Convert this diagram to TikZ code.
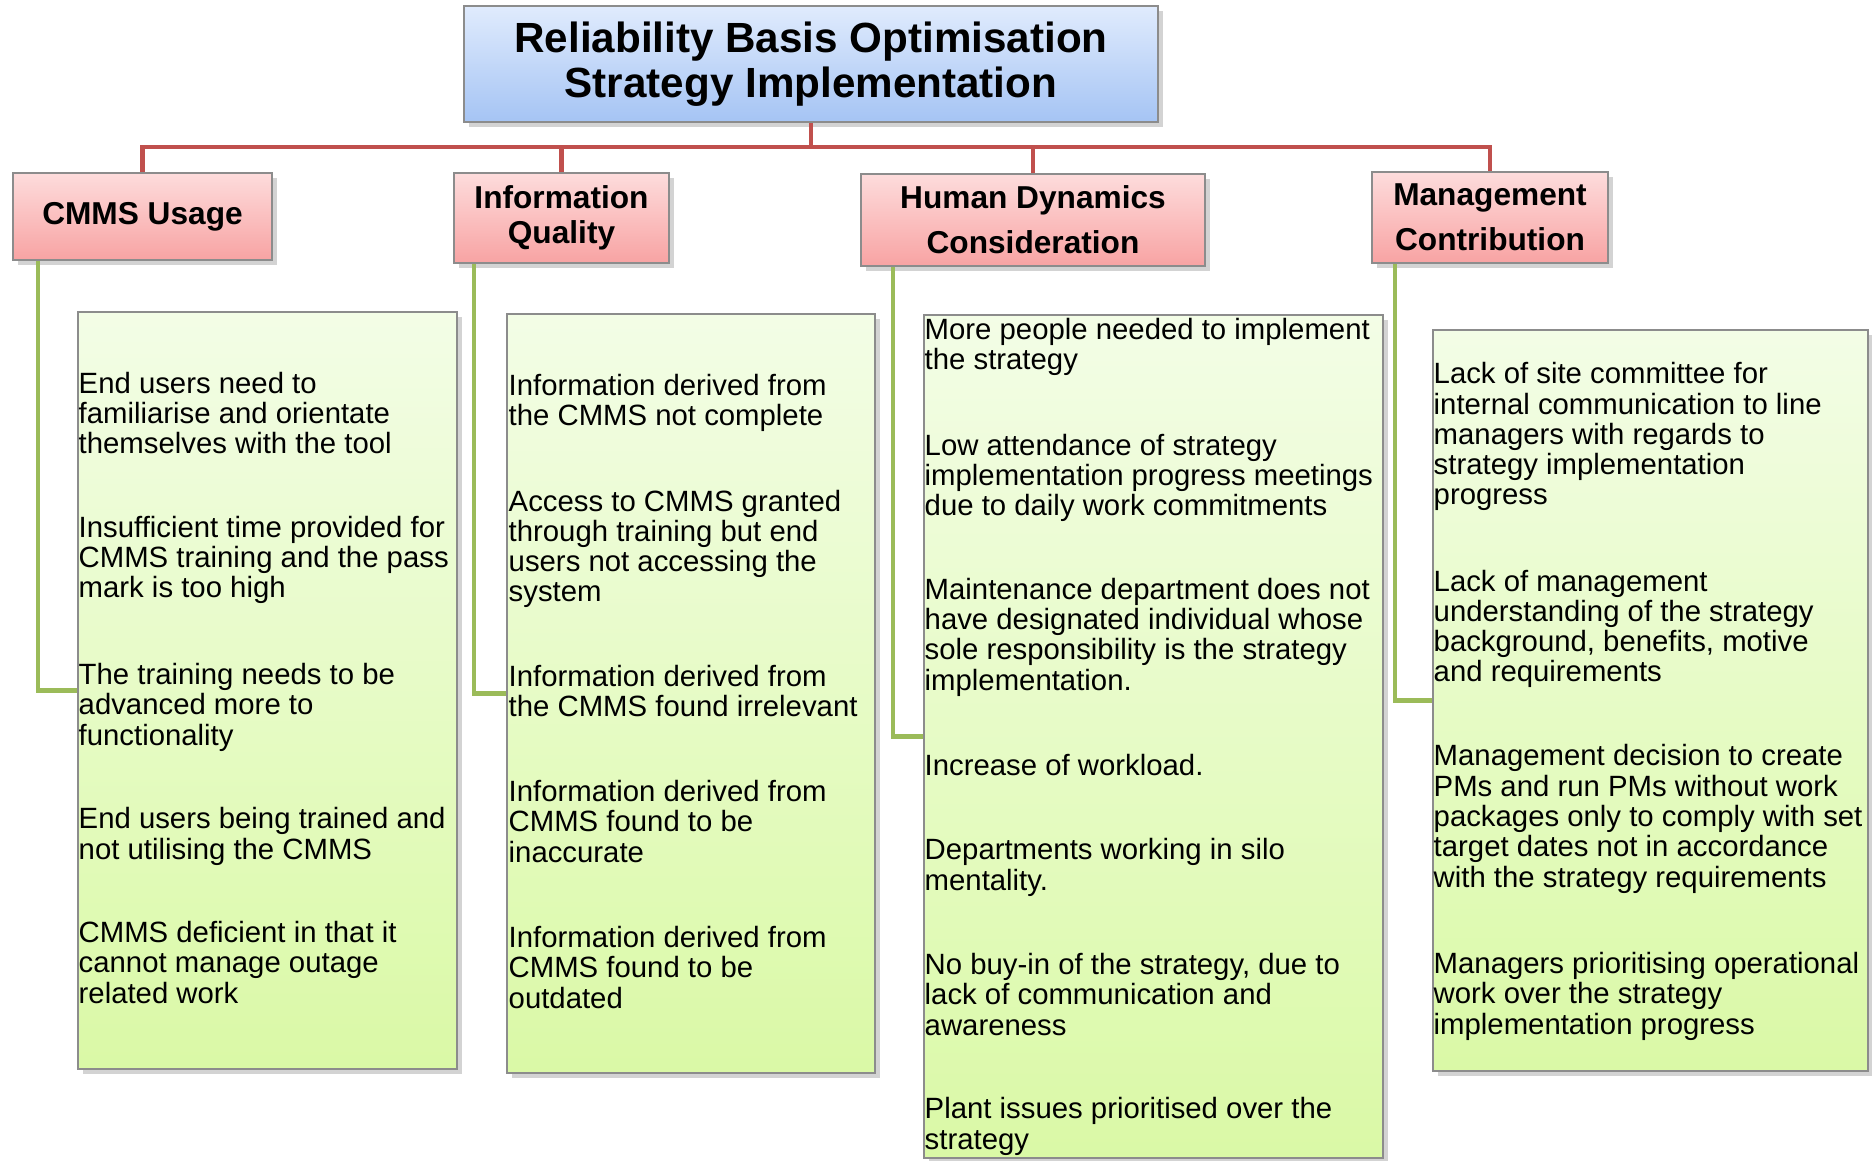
\documentclass[tikz,border=0pt]{standalone}
\usepackage{fontspec}
\setmainfont{Liberation Sans}
\usetikzlibrary{shadows}

\definecolor{titletop}{HTML}{E0EBFD}
\definecolor{titlebot}{HTML}{A5C4F4}
\definecolor{pinktop}{HTML}{FDDCDC}
\definecolor{pinkbot}{HTML}{F8A3A3}
\definecolor{greentop}{HTML}{F3FDE6}
\definecolor{greenbot}{HTML}{DAF9A6}
\definecolor{linered}{HTML}{C0504D}
\definecolor{linegreen}{HTML}{9BBB59}
\definecolor{boxgray}{HTML}{8C8C8C}

\begin{document}
\begin{tikzpicture}[x=0.01cm, y=-0.01cm,
  box/.style={draw=boxgray, line width=0.5pt, drop shadow={shadow xshift=1.5pt, shadow yshift=-1.5pt, opacity=0.35}},
  headbox/.style={box, top color=titletop, bottom color=titlebot, align=center, font=\bfseries\fontsize{12}{12.9}\selectfont},
  catbox/.style={box, top color=pinktop, bottom color=pinkbot, align=center, font=\bfseries\fontsize{9}{9.85}\selectfont},
  listbox/.style={box, top color=greentop, bottom color=greenbot},
  item/.style={anchor=base west, inner sep=0pt, align=left, font=\fontsize{8.34}{8.62}\selectfont},
  redline/.style={draw=linered, line width=1.2pt},
  greenline/.style={draw=linegreen, line width=1.2pt}]
  \useasboundingbox (0,0) rectangle (1872,1161);

  \node[headbox, minimum width=6.94cm, minimum height=1.16cm] (title) at (811,64)
    {Reliability Basis Optimisation\\Strategy Implementation};

  \node[catbox, minimum width=2.59cm, minimum height=0.87cm] (cmms) at (142.5,216.5) {CMMS Usage};
  \node[catbox, minimum width=2.15cm, minimum height=0.90cm] (info) at (561.5,218) {Information\\Quality};
  \node[catbox, minimum width=3.44cm, minimum height=0.92cm] (human) at (1033,220) {Human Dynamics\\[3pt]Consideration};
  \node[catbox, minimum width=2.36cm, minimum height=0.91cm] (mgmt) at (1490,217.5) {Management\\[3pt]Contribution};

  \node[listbox, minimum width=3.79cm, minimum height=7.57cm] (list1) at (267.5,690.5) {};
  \node[listbox, minimum width=3.68cm, minimum height=7.59cm] (list2) at (691,693.5) {};
  \node[listbox, minimum width=4.59cm, minimum height=8.43cm] (list3) at (1153.5,736.5) {};
  \node[listbox, minimum width=4.35cm, minimum height=7.41cm] (list4) at (1650.5,700.5) {};

  % tree connectors
  \coordinate (bus) at (811,147);
  \draw[redline] (title.south) -- (bus);
  \draw[redline] (cmms.north) |- (bus) -| (mgmt.north);
  \draw[redline] (info.north) -- (info.north |- bus);
  \draw[redline] (human.north) -- (human.north |- bus);

  \draw[greenline] ([xshift=0.26cm]cmms.south west) |- (list1.west);
  \draw[greenline] ([xshift=0.21cm]info.south west) |- (list2.west);
  \draw[greenline] ([xshift=0.33cm]human.south west) |- (list3.west);
  \draw[greenline] ([xshift=0.24cm]mgmt.south west) |- (list4.west);

  % items, placed at the baseline of their last line
  % CMMS usage
  \node[item] (c1) at (78,454) {End users need to\\familiarise and orientate\\themselves with the tool};
  \node[item] (c2) at (78,598) {Insufficient time provided for\\CMMS training and the pass\\mark is too high};
  \node[item] (c3) at (78,745) {The training needs to be\\advanced more to\\functionality};
  \node[item] (c4) at (78,859) {End users being trained and\\not utilising the CMMS};
  \node[item] (c5) at (78,1003) {CMMS deficient in that it\\cannot manage outage\\related work};

  % information quality
  \node[item] (i1) at (508,426) {Information derived from\\the CMMS not complete};
  \node[item] (i2) at (508,602) {Access to CMMS granted\\through training but end\\users not accessing the\\system};
  \node[item] (i3) at (508,717) {Information derived from\\the CMMS found irrelevant};
  \node[item] (i4) at (508,862) {Information derived from\\CMMS found to be\\inaccurate};
  \node[item] (i5) at (508,1008) {Information derived from\\CMMS found to be\\outdated};

  % human dynamics
  \node[item] (h1) at (924,370) {More people needed to implement\\the strategy};
  \node[item] (h2) at (924,516) {Low attendance of strategy\\implementation progress meetings\\due to daily work commitments};
  \node[item] (h3) at (924,690) {Maintenance department does not\\have designated individual whose\\sole responsibility is the strategy\\implementation.};
  \node[item] (h4) at (924,775) {Increase of workload.};
  \node[item] (h5) at (924,890) {Departments working in silo\\mentality.};
  \node[item] (h6) at (924,1035) {No buy-in of the strategy, due to\\lack of communication and\\awareness};
  \node[item] (h7) at (924,1149) {Plant issues prioritised over the\\strategy};

  % management
  \node[item] (m1) at (1433,505) {Lack of site committee for\\internal communication to line\\managers with regards to\\strategy implementation\\progress};
  \node[item] (m2) at (1433,682) {Lack of management\\understanding of the strategy\\background, benefits, motive\\and requirements};
  \node[item] (m3) at (1433,887) {Management decision to create\\PMs and run PMs without work\\packages only to comply with set\\target dates not in accordance\\with the strategy requirements};
  \node[item] (m4) at (1433,1034) {Managers prioritising operational\\work over the strategy\\implementation progress};
\end{tikzpicture}
\end{document}
